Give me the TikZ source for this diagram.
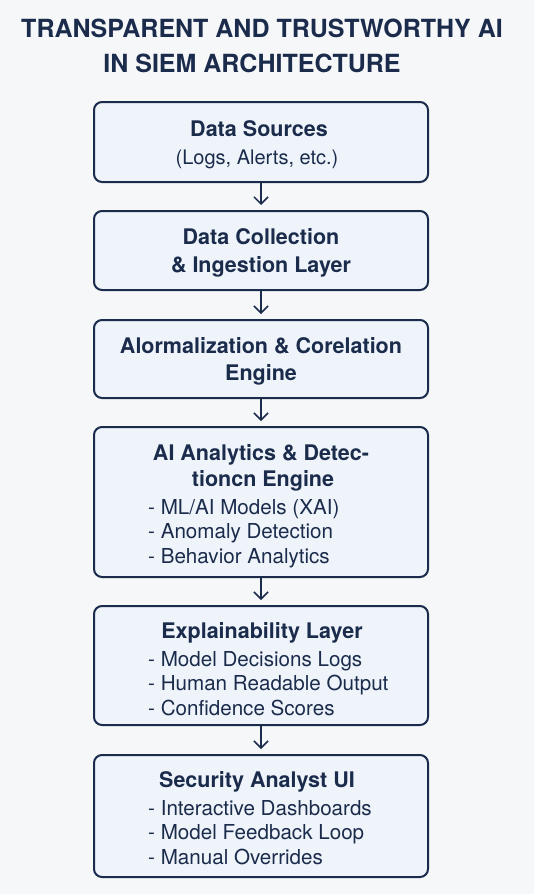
\documentclass[tikz,border=0pt]{standalone}
\usepackage{fontspec}
\setmainfont{TeX Gyre Heros}
\usetikzlibrary{arrows.meta}

\definecolor{navy}{HTML}{1B2B4B}
\definecolor{boxfill}{HTML}{EEF4FA}
\definecolor{paper}{HTML}{F6F7F9}

\begin{document}
\begin{tikzpicture}[x=1pt,y=-1pt,
        layer/.style={draw=navy,fill=boxfill,line width=2pt,rounded corners=8pt,
                      minimum width=334pt,inner sep=0pt},
        head/.style={font=\fontsize{25}{30}\selectfont\bfseries,text=navy,anchor=base,inner sep=0pt},
        ttl/.style={font=\fontsize{21.5}{26}\selectfont\bfseries,text=navy,anchor=base,inner sep=0pt},
        itm/.style={font=\fontsize{20.6}{24}\selectfont,text=navy,anchor=base west,inner sep=0pt},
        sub/.style={font=\fontsize{20}{24}\selectfont,text=navy,anchor=base,inner sep=0pt},
        flow/.style={draw=navy,line width=1.5pt,-{Straight Barb[length=7pt,width=14pt]},shorten >=5pt}]

    \fill [paper] (0,0) rectangle (534,894);
    \useasboundingbox (0,0) rectangle (534,894);

    % title
    \node [head] (title1) at (262,37) {TRANSPARENT AND TRUSTWORTHY AI};
    \node [head] (title2) at (252,72) {IN SIEM ARCHITECTURE};

    % boxes, centre x = 261
    \node [layer,minimum height=80pt]  (src)  at (261,142)   {};
    \node [layer,minimum height=79pt]  (coll) at (261,250.5) {};
    \node [layer,minimum height=78pt]  (norm) at (261,359)   {};
    \node [layer,minimum height=150pt] (ai)   at (261,502)   {};
    \node [layer,minimum height=119pt] (xai)  at (261,665.5) {};
    \node [layer,minimum height=122pt] (ui)   at (261,816)   {};

    \foreach \a/\b in {src/coll,coll/norm,norm/ai,ai/xai,xai/ui}
        {\draw [flow] (\a.south) -- (\b.north);}

    % Data Sources
    \node [ttl] (srcT) at (259,136) {Data Sources};
    \node [sub] (srcS) at (257,164) {(Logs, Alerts, etc.)};

    % Collection
    \node [ttl] (collA) at (261,244) {Data Collection};
    \node [ttl] (collB) at (261,272) {\& Ingestion Layer};

    % Normalization
    \node [ttl] (normA) at (261,353) {Alormalization \& Corelation};
    \node [ttl] (normB) at (261,380) {Engine};

    % AI analytics
    \node [ttl] (aiA) at (261,460) {AI Analytics \& Detec-};
    \node [ttl] (aiB) at (263,486) {tioncn Engine};
    \foreach \t [count=\i] in {- ML/AI Models (XAI),- Anomaly Detection,- Behavior Analytics}
        {\node [itm] (ai\i) at (148,489.5+\i*24.5) {\t};}

    % Explainability
    \node [ttl] (xaiT) at (262,638) {Explainability Layer};
    \foreach \t [count=\i] in {- Model Decisions Logs,- Human Readable Output,- Confidence Scores}
        {\node [itm] (xai\i) at (148,641.5+\i*24.5) {\t};}

    % Analyst UI
    \node [ttl] (uiT) at (257,787) {Security Analyst UI};
    \foreach \t [count=\i] in {- Interactive Dashboards,- Model Feedback Loop,- Manual Overrides}
        {\node [itm] (ui\i) at (148,790.5+\i*24.5) {\t};}
\end{tikzpicture}
\end{document}
